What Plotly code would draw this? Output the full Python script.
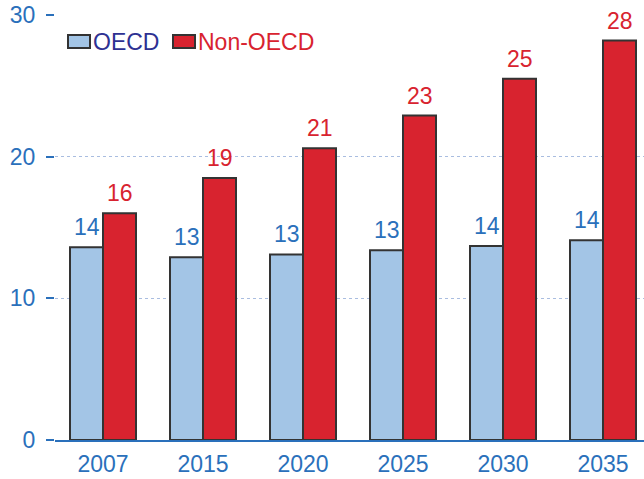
import plotly.graph_objects as go

years = ["2007", "2015", "2020", "2025", "2030", "2035"]
oecd = [13.6, 12.9, 13.1, 13.4, 13.7, 14.1]
non_oecd = [16.0, 18.5, 20.6, 22.9, 25.5, 28.2]
oecd_labels = ["14", "13", "13", "13", "14", "14"]
non_oecd_labels = ["16", "19", "21", "23", "25", "28"]
y_ticks = [0, 10, 20, 30]

BLUE_TXT = "#2a70bb"
NAVY = "#2e3192"
RED = "#d8232f"
LBLUE = "#a3c5e6"
EDGE = "#333333"
FONT = "Liberation Sans, Arial, sans-serif"
FS = 23

fig = go.Figure()
fig.add_trace(go.Bar(x=years, y=oecd, name="OECD", marker=dict(color=LBLUE, line=dict(color=EDGE, width=2)),
                     showlegend=False))
fig.add_trace(go.Bar(x=years, y=non_oecd, name="Non-OECD", marker=dict(color=RED, line=dict(color=EDGE, width=2)),
                     showlegend=False))

for i, (v, t) in enumerate(zip(oecd, oecd_labels)):
    fig.add_annotation(x=i, y=v, text=t, showarrow=False, xshift=-16.5, yshift=5, yanchor="bottom",
                       font=dict(color=BLUE_TXT, size=FS, family=FONT))
for i, (v, t) in enumerate(zip(non_oecd, non_oecd_labels)):
    fig.add_annotation(x=i, y=v, text=t, showarrow=False, xshift=16.5, yshift=5, yanchor="bottom",
                       font=dict(color=RED, size=FS, family=FONT))

# manual legend
W, H = 644 - 55, 479 - 15 - 39
def px(x):
    return (x - 55) / W
def py(y):
    return (479 - 39 - y) / H
for x0, x1, col in [(68, 90, LBLUE), (173, 195, RED)]:
    fig.add_shape(type="rect", xref="paper", yref="paper", x0=px(x0), x1=px(x1), y0=py(48), y1=py(35),
                  fillcolor=col, line=dict(color=EDGE, width=2))
fig.add_annotation(xref="paper", yref="paper", x=px(91), y=py(42), text="OECD", showarrow=False,
                   xanchor="left", yanchor="middle", font=dict(color=NAVY, size=FS, family=FONT))
fig.add_annotation(xref="paper", yref="paper", x=px(196), y=py(42), text="Non-OECD", showarrow=False,
                   xanchor="left", yanchor="middle", font=dict(color=RED, size=FS, family=FONT))

fig.update_layout(
    width=644, height=479,
    margin=dict(l=55, r=0, t=15, b=39),
    plot_bgcolor="white", paper_bgcolor="white",
    barmode="group", bargap=0.34, bargroupgap=0,
    font=dict(family=FONT, size=FS, color=BLUE_TXT),
    showlegend=False,
    xaxis=dict(type="category", range=[-0.48, 5.41], showline=True, linecolor=BLUE_TXT, linewidth=2, ticks="",
               ticklabelstandoff=2, tickfont=dict(size=FS, color=BLUE_TXT), showgrid=False, zeroline=False),
    yaxis=dict(range=[0, 30], tickvals=y_ticks, ticks="outside", ticklen=8, tickwidth=2, tickcolor=BLUE_TXT,
               ticklabelstandoff=6, tickfont=dict(size=FS, color=BLUE_TXT), automargin=False,
               showgrid=True, gridcolor="#a9bde0", griddash="dot", gridwidth=1, zeroline=False, showline=False),
)
fig.write_html("out.html", config={"displayModeBar": False},
               post_script="document.body.style.margin='0';document.body.style.padding='0';")
